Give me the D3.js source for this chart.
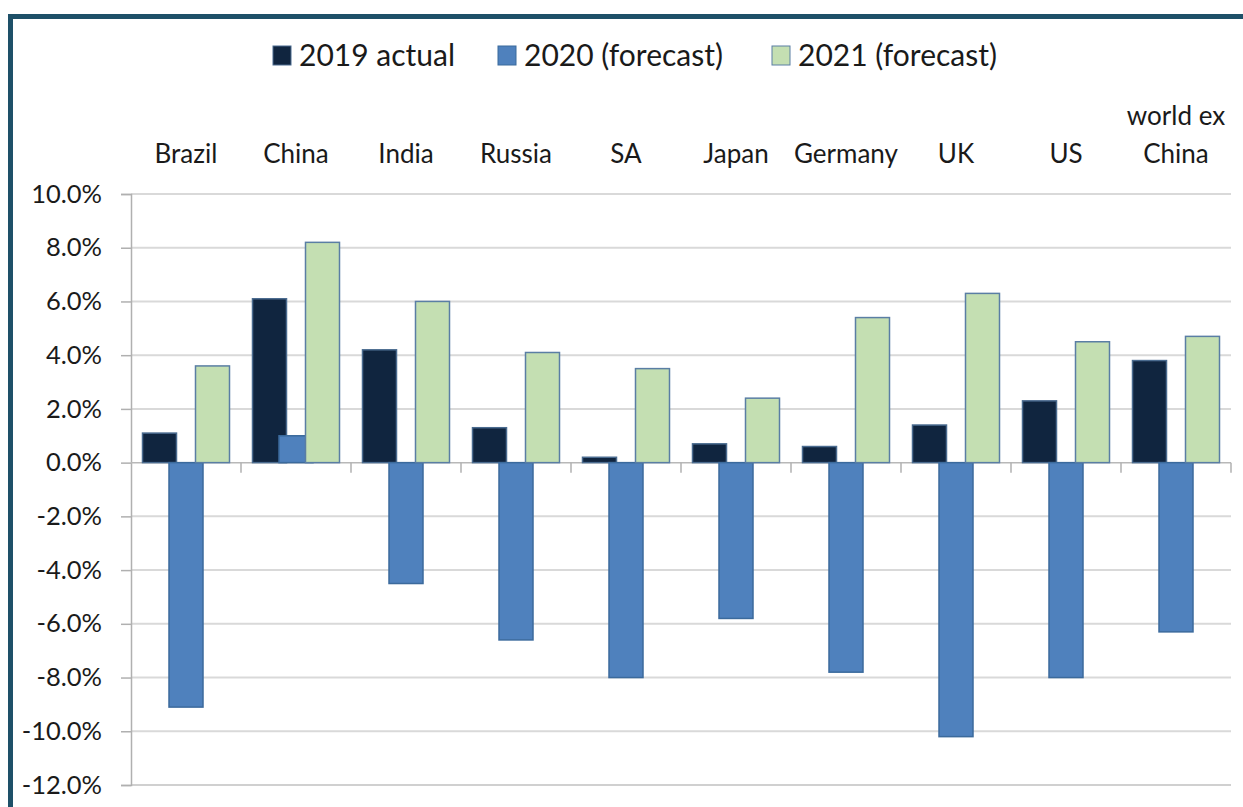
<!DOCTYPE html>
<html>
<head>
<meta charset="utf-8">
<script src="https://cdn.jsdelivr.net/npm/d3@7"></script>
<style>
  body { margin: 0; background: #fff; }
  text { font-family: Lato, "Noto Sans", sans-serif; fill: #1a1a1a; }
</style>
</head>
<body>
<div id="chart"></div>
<script>
// GDP growth by country: 2019 actual vs 2020 / 2021 forecasts
const categories = ["Brazil", "China", "India", "Russia", "SA", "Japan", "Germany", "UK", "US", "world ex China"];
const seriesNames = ["2019 actual", "2020 (forecast)", "2021 (forecast)"];
const actual2019 = [1.1, 6.1, 4.2, 1.3, 0.2, 0.7, 0.6, 1.4, 2.3, 3.8];
const forecast2020 = [-9.1, 1.0, -4.5, -6.6, -8.0, -5.8, -7.8, -10.2, -8.0, -6.3];
const forecast2021 = [3.6, 8.2, 6.0, 4.1, 3.5, 2.4, 5.4, 6.3, 4.5, 4.7];
const yTicks = [10, 8, 6, 4, 2, 0, -2, -4, -6, -8, -10, -12];

const fills = ["#10253f", "#4f81bd", "#c4dfb2"];
const strokes = ["#4a6b8f", "#3b6a9c", "#5a7ea4"];

const W = 1243, H = 807;
const plot = { left: 131, right: 1231, top: 194, bottom: 785 };

const svg = d3.select("#chart").append("svg")
    .attr("width", W)
    .attr("height", H);

// frame (only top and left edges show in the picture)
svg.append("rect").attr("x", 8).attr("y", 14).attr("width", W - 8).attr("height", 5).attr("fill", "#1e5068");
svg.append("rect").attr("x", 8).attr("y", 14).attr("width", 5).attr("height", H - 14).attr("fill", "#1e5068");

const x = d3.scaleBand()
    .domain(categories)
    .range([plot.left, plot.right]);

const y = d3.scaleLinear()
    .domain([-12, 10])
    .range([plot.bottom, plot.top]);

// gridlines
svg.append("g")
    .selectAll("line")
    .data(yTicks.filter(d => d !== 0 && d !== -12))
    .enter().append("line")
    .attr("x1", plot.left).attr("x2", plot.right)
    .attr("y1", d => y(d)).attr("y2", d => y(d))
    .attr("stroke", "#d9d9d9")
    .attr("stroke-width", 2);

svg.append("line")
    .attr("x1", plot.left).attr("x2", plot.right)
    .attr("y1", y(-12)).attr("y2", y(-12))
    .attr("stroke", "#d0d0d0")
    .attr("stroke-width", 2);

// y axis
const yAxis = svg.append("g")
    .attr("transform", `translate(${plot.left},0)`)
    .call(d3.axisLeft(y).tickValues(yTicks).tickSize(10).tickPadding(19).tickFormat(d => d.toFixed(1) + "%"));
yAxis.select(".domain").attr("stroke", "#b0b0b0").attr("stroke-width", 1.5);
yAxis.selectAll(".tick line").attr("stroke", "#b0b0b0").attr("stroke-width", 1.5);
yAxis.selectAll(".tick text")
    .style("font-size", "25.5px")
    .style("font-family", "Lato, sans-serif")
    .attr("fill", "#1a1a1a");

// zero line with category ticks below it
svg.append("line")
    .attr("x1", plot.left).attr("x2", plot.right)
    .attr("y1", y(0)).attr("y2", y(0))
    .attr("stroke", "#b8b8b8")
    .attr("stroke-width", 1.5);
svg.append("g")
    .selectAll("line")
    .data(categories.slice(1).concat(["__end"]))
    .enter().append("line")
    .attr("x1", (d, i) => plot.left + x.step() * (i + 1))
    .attr("x2", (d, i) => plot.left + x.step() * (i + 1))
    .attr("y1", y(0)).attr("y2", y(0) + 10)
    .attr("stroke", "#b0b0b0")
    .attr("stroke-width", 1.5);

// bars: three overlapping columns per category
const barW = 34, barStep = 26.5;
const seriesData = [actual2019, forecast2020, forecast2021];
seriesData.forEach((vals, s) => {
    svg.append("g")
        .selectAll("rect")
        .data(vals)
        .enter().append("rect")
        .attr("x", (d, i) => x(categories[i]) + x.bandwidth() / 2 + (s - 1) * barStep - barW / 2)
        .attr("y", d => y(Math.max(0, d)))
        .attr("width", barW)
        .attr("height", d => Math.abs(y(d) - y(0)))
        .attr("fill", fills[s])
        .attr("stroke", strokes[s])
        .attr("stroke-width", 1.5);
});

// category labels above the plot
const catLabels = svg.append("g");
categories.forEach(c => {
    const cx = x(c) + x.bandwidth() / 2;
    const lines = c === "world ex China" ? ["world ex", "China"] : [c];
    lines.forEach((t, j) => {
        catLabels.append("text")
            .attr("x", cx)
            .attr("y", 163 - (lines.length - 1 - j) * 38)
            .attr("text-anchor", "middle")
            .style("font-size", "26px")
            .text(t);
    });
});

// legend
const legendX = [273, 498, 772];
const legend = svg.append("g");
seriesNames.forEach((name, i) => {
    legend.append("rect")
        .attr("x", legendX[i]).attr("y", 46)
        .attr("width", 18).attr("height", 19)
        .attr("fill", fills[i])
        .attr("stroke", strokes[i])
        .attr("stroke-width", 1);
    legend.append("text")
        .attr("x", legendX[i] + 26)
        .attr("y", 66)
        .style("font-size", "30px")
        .text(name);
});
</script>
</body>
</html>
